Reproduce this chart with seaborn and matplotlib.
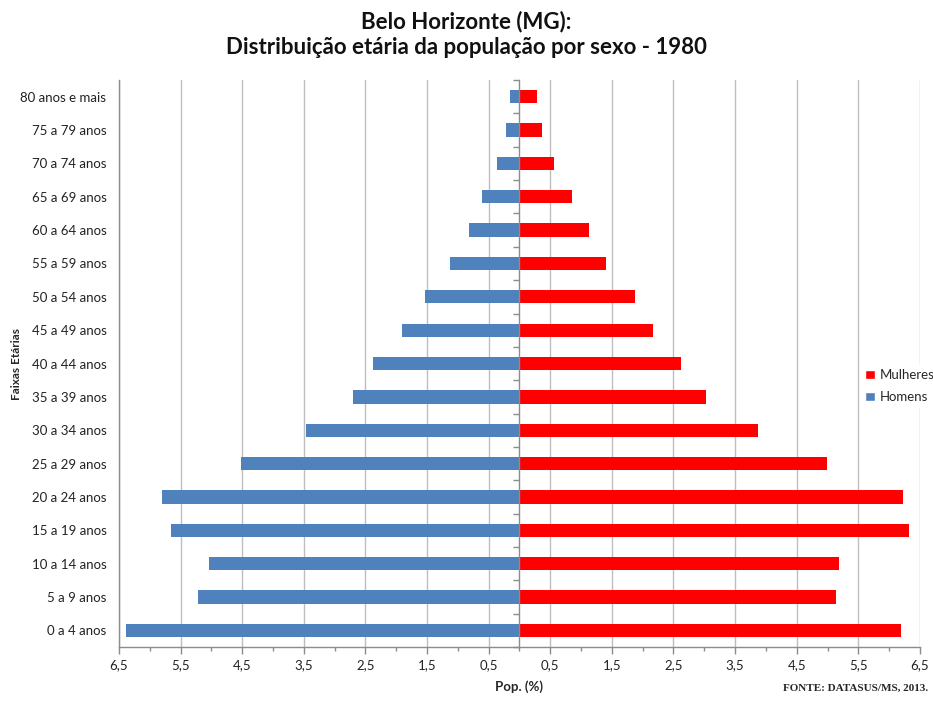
import numpy as np
import pandas as pd
import matplotlib
matplotlib.use("Agg")
import matplotlib.pyplot as plt
import seaborn as sns
from matplotlib.ticker import FixedLocator, FuncFormatter
from matplotlib.patches import Patch

# Faixas etárias (de cima para baixo)
faixas = [
    "80 anos e mais", "75 a 79 anos", "70 a 74 anos", "65 a 69 anos",
    "60 a 64 anos", "55 a 59 anos", "50 a 54 anos", "45 a 49 anos",
    "40 a 44 anos", "35 a 39 anos", "30 a 34 anos", "25 a 29 anos",
    "20 a 24 anos", "15 a 19 anos", "10 a 14 anos", "5 a 9 anos",
    "0 a 4 anos",
]

# Participação na população total (%)
homens = [0.15, 0.22, 0.37, 0.60, 0.82, 1.12, 1.53, 1.91, 2.38, 2.70,
          3.47, 4.52, 5.80, 5.66, 5.04, 5.22, 6.39]
mulheres = [0.29, 0.37, 0.56, 0.86, 1.13, 1.40, 1.87, 2.16, 2.63, 3.02,
            3.87, 4.99, 6.23, 6.32, 5.19, 5.13, 6.20]

x_ticks = [-6.5, -5.5, -4.5, -3.5, -2.5, -1.5, -0.5, 0.5, 1.5, 2.5, 3.5, 4.5, 5.5, 6.5]

cor_homens = "#4F81BD"
cor_mulheres = "#FF0000"

df = pd.DataFrame({
    "faixa": faixas * 2,
    "pop": [-v for v in homens] + mulheres,
    "sexo": ["Homens"] * len(faixas) + ["Mulheres"] * len(faixas),
})

sns.set_style("white")
plt.rcParams["font.family"] = ["Lato", "DejaVu Sans"]

fig = plt.figure(figsize=(9.33, 7.02), dpi=100)
ax = fig.add_axes([0.1275, 0.0783, 0.8585, 0.8077])

sns.barplot(data=df, y="faixa", x="pop", hue="sexo", order=faixas,
            hue_order=["Homens", "Mulheres"],
            palette={"Homens": cor_homens, "Mulheres": cor_mulheres},
            dodge=False, width=0.4, orient="h", ax=ax, legend=False,
            saturation=1, edgecolor="none")

ax.set_xlim(-6.5, 6.5)
ax.set_ylim(len(faixas) - 0.5, -0.5)

# Grade vertical nos ticks principais
ax.xaxis.set_major_locator(FixedLocator(x_ticks))
ax.xaxis.set_minor_locator(FixedLocator(np.arange(-6, 7, 1)))
ax.xaxis.set_major_formatter(FuncFormatter(lambda v, p: f"{abs(v):.1f}".replace(".", ",")))
ax.grid(axis="x", which="major", color="#BEBEBE", linewidth=1.0)
ax.set_axisbelow(True)

grid_col = "#8C8C8C"
ax.spines["top"].set_visible(False)
ax.spines["left"].set_color(grid_col)
ax.spines["bottom"].set_color(grid_col)
ax.spines["left"].set_linewidth(1.0)
ax.spines["bottom"].set_linewidth(1.0)

# Eixo central em x = 0 com marcas entre as faixas
ax.spines["right"].set_position(("data", 0))
ax.spines["right"].set_color(grid_col)
ax.spines["right"].set_linewidth(1.0)
ax.yaxis.set_minor_locator(FixedLocator(np.arange(-0.5, len(faixas), 1)))
ax.tick_params(axis="y", which="minor", right=True, left=False, direction="in",
               length=4, color=grid_col, width=1)
ax.tick_params(axis="y", which="major", left=False, right=False, length=0, pad=9,
               labelsize=9.5, labelcolor="#222222")
ax.tick_params(axis="x", which="major", bottom=True, direction="out", length=5,
               color=grid_col, width=1, labelsize=9.5, labelcolor="#222222", pad=4)
ax.tick_params(axis="x", which="minor", bottom=True, direction="out", length=3,
               color=grid_col, width=1)

ax.set_xlabel("Pop. (%)", fontsize=9.5, fontweight="bold", labelpad=6)
ax.set_ylabel("Faixas Etárias", fontsize=8.5, fontweight="bold")
ax.yaxis.set_label_coords(-0.121, 0.5)

fig.text(0.5, 0.985, "Belo Horizonte (MG):\nDistribuição etária da população por sexo - 1980",
         ha="center", va="top", fontsize=16, fontweight="bold", linespacing=1.3,
         color="#111111")

fig.text(0.995, 0.013, "FONTE: DATASUS/MS, 2013.", ha="right", va="bottom",
         fontsize=8, fontweight="bold", family=["Liberation Serif", "DejaVu Serif"])

# Legenda (Mulheres acima de Homens)
handles = [Patch(facecolor=cor_mulheres, label="Mulheres"),
           Patch(facecolor=cor_homens, label="Homens")]
leg = ax.legend(handles=handles, loc="center left", bbox_to_anchor=(0.927, 0.46),
                frameon=True, fontsize=9.5, handlelength=0.7, handleheight=0.7,
                handletextpad=0.4, labelspacing=0.75, borderpad=0.3,
                borderaxespad=0)
leg.get_frame().set_edgecolor("white")
leg.get_frame().set_facecolor("white")
leg.get_frame().set_alpha(1)

fig.savefig("out.png", dpi=100, facecolor="white")
